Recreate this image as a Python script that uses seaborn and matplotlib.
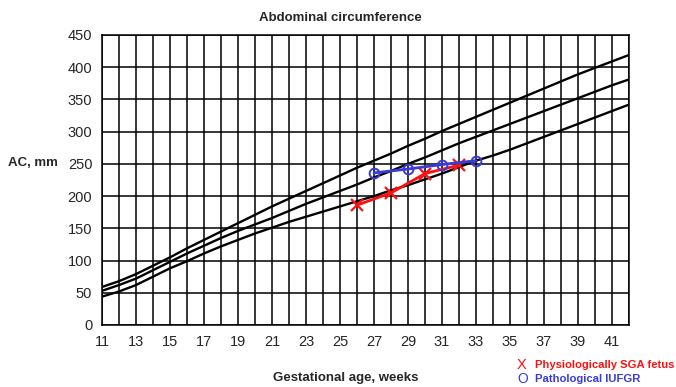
import numpy as np
import pandas as pd
import seaborn as sns
import matplotlib.pyplot as plt
from matplotlib.ticker import MultipleLocator

# reference curves (weeks 11..42)
weeks = list(range(11, 43))
upper = [59, 68, 79, 92, 105, 119, 132, 145, 158, 171, 184, 196, 208, 220, 232, 244,
         255, 266, 278, 289, 301, 312, 323, 334, 345, 356, 367, 378, 389, 399, 409, 419]
middle = [53, 62, 72, 85, 98, 111, 123, 135, 146, 156, 166, 177, 188, 198, 208, 218,
          229, 239, 250, 260, 271, 282, 292, 302, 312, 322, 332, 342, 352, 362, 372, 381]
lower = [44, 52, 62, 75, 88, 99, 111, 122, 132, 142, 151, 160, 168, 176, 184, 192,
         200, 209, 217, 226, 235, 245, 255, 263, 272, 282, 292, 302, 312, 322, 332, 342]

# patient measurements
sga_weeks = [26, 28, 30, 32]
sga_ac = [186, 205, 235, 248]
iufgr_weeks = [27, 29, 31, 33]
iufgr_ac = [236, 242, 249, 255]

sns.set_style('white')
plt.rcParams['font.family'] = ['Liberation Sans', 'DejaVu Sans']

curves = pd.DataFrame({
    'week': weeks * 3,
    'ac': upper + middle + lower,
    'curve': ['upper'] * len(weeks) + ['middle'] * len(weeks) + ['lower'] * len(weeks),
})
sga = pd.DataFrame({'week': sga_weeks, 'ac': sga_ac})
iufgr = pd.DataFrame({'week': iufgr_weeks, 'ac': iufgr_ac})

fig = plt.figure(figsize=(6.76, 3.87), dpi=100)
ax = fig.add_axes([102 / 676, 62 / 387, 527 / 676, 290 / 387])

sns.lineplot(data=curves, x='week', y='ac', hue='curve', units='curve', estimator=None,
             palette=['black'] * 3, linewidth=1.7, legend=False, ax=ax, zorder=3)
sns.lineplot(data=sga, x='week', y='ac', color='#ff1010', linewidth=2.0, marker='x',
             markersize=8, markeredgewidth=1.6, markeredgecolor='#ff1010', ax=ax, zorder=4)
sns.lineplot(data=iufgr, x='week', y='ac', color='#3a3ad8', linewidth=2.0, marker='o',
             markersize=7, fillstyle='none', markeredgewidth=1.4, markeredgecolor='#3a3ad8',
             ax=ax, zorder=5)

ax.set_xlim(11, 42)
ax.set_ylim(0, 450)
ax.xaxis.set_major_locator(MultipleLocator(1))
ax.yaxis.set_major_locator(MultipleLocator(50))
ax.set_xticklabels([str(int(t)) if int(t) % 2 == 1 else '' for t in ax.get_xticks()])
ax.grid(True, color='black', linewidth=1.1)
ax.tick_params(axis='both', length=4, width=1.1, color='black', labelsize=10.5, pad=3)
for s in ax.spines.values():
    s.set_color('black')
    s.set_linewidth(1.1)
ax.set_xlabel('')
ax.set_ylabel('')

fig.text(340 / 676, 1 - 18 / 387, 'Abdominal circumference', ha='center', va='center',
         fontsize=9.5, fontweight='bold')
fig.text(8 / 676, 1 - 163 / 387, 'AC, mm', ha='left', va='center', fontsize=9.5,
         fontweight='bold')
fig.text(346 / 676, 1 - 378 / 387, 'Gestational age, weeks', ha='center', va='center',
         fontsize=9.5, fontweight='bold')
fig.text(517 / 676, 1 - 365 / 387, 'X', ha='left', va='center', fontsize=10.5,
         color='#ff1010')
fig.text(535 / 676, 1 - 365 / 387, 'Physiologically SGA fetus', ha='left', va='center',
         fontsize=8.1, fontweight='bold', color='#ff1010')
fig.text(517 / 676, 1 - 379 / 387, 'O', ha='left', va='center', fontsize=10,
         color='#3a3ad8')
fig.text(535 / 676, 1 - 379 / 387, 'Pathological IUFGR', ha='left', va='center',
         fontsize=8.1, fontweight='bold', color='#3a3ad8')

fig.savefig('out.png', dpi=100)
